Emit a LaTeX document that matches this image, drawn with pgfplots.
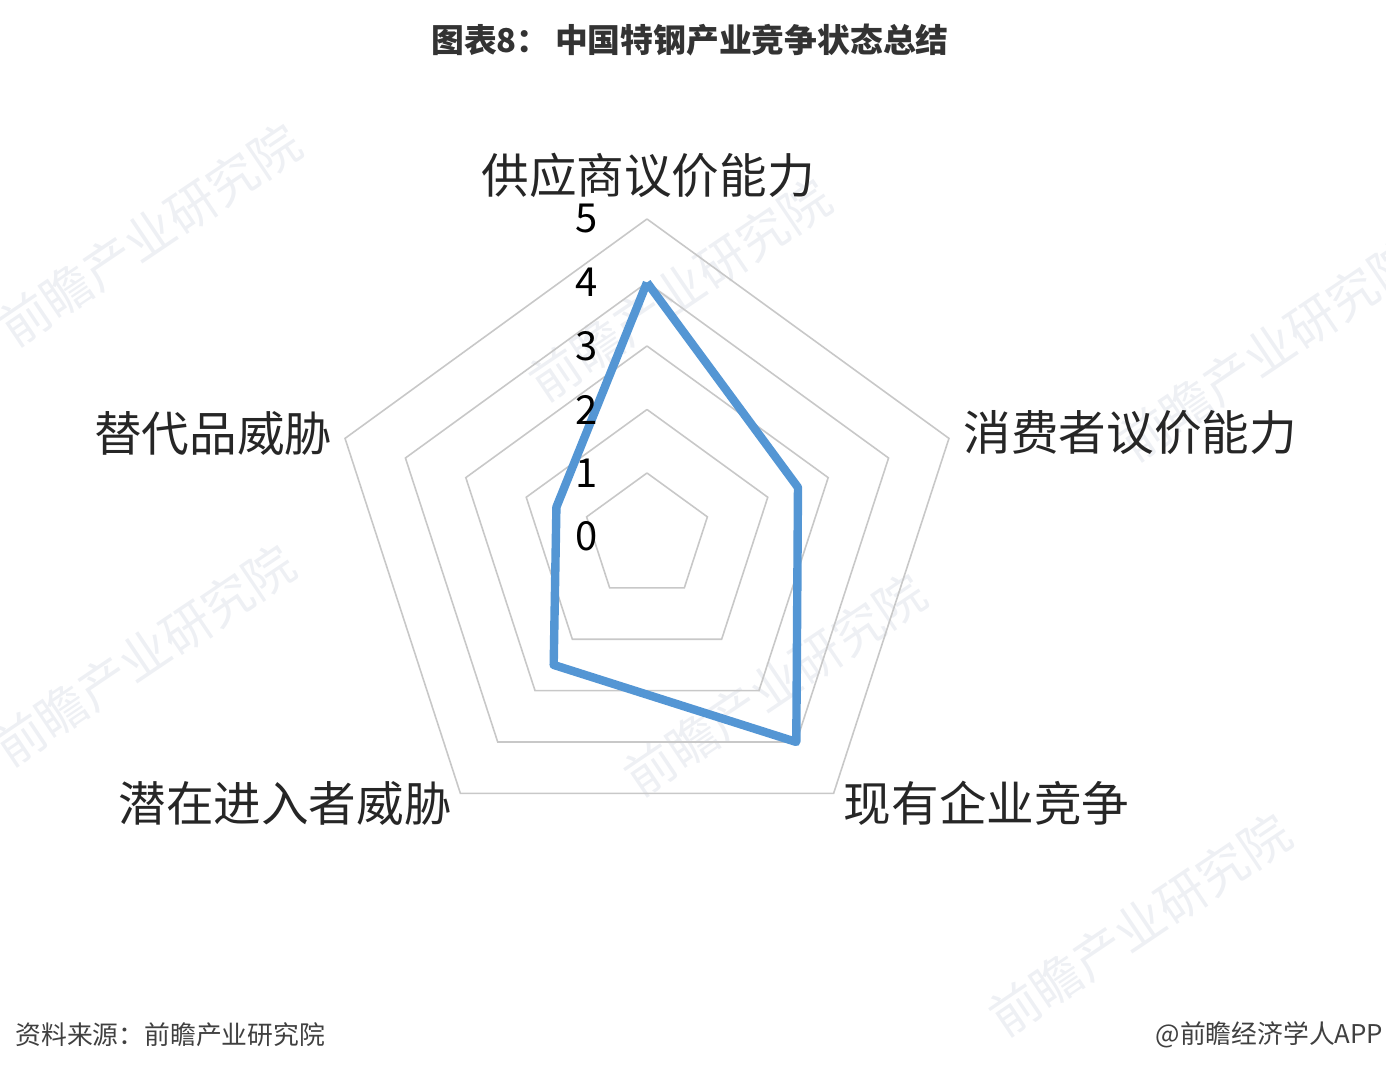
\documentclass[border=0pt]{standalone}
\usepackage{pgfplots}
\pgfplotsset{compat=1.18}
\usepackage{fontspec}
\setmainfont{Noto Sans CJK SC}
\definecolor{radarblue}{RGB}{84,150,212}
\definecolor{gridgray}{RGB}{200,200,200}
\definecolor{labtxt}{RGB}{38,38,38}
\definecolor{titletxt}{RGB}{51,51,51}
\definecolor{srctxt}{RGB}{64,64,64}
\definecolor{wm}{RGB}{238,240,244}
\tikzset{wmark/.style={overlay, rotate=34, text=wm, font=\fontsize{25}{30}\selectfont}}
\begin{document}
\begin{tikzpicture}
\begin{axis}[
  x=31.75pt, y=31.75pt,
  xmin=-10.189, xmax=11.638, ymin=-8.528, ymax=8.449,
  hide axis, clip=false,
]
\path (rel axis cs:0,0) rectangle (rel axis cs:1,1);
% watermarks
\node[wmark] at (axis cs:-7.83,4.75) {前瞻产业研究院};
\node[wmark] at (axis cs:0.52,3.88) {前瞻产业研究院};
\node[wmark] at (axis cs:9.81,2.94) {前瞻产业研究院};
\node[wmark] at (axis cs:-7.91,-1.87) {前瞻产业研究院};
\node[wmark] at (axis cs:2.02,-2.34) {前瞻产业研究院};
\node[wmark] at (axis cs:7.76,-6.12) {前瞻产业研究院};
% grid pentagons
\addplot[gridgray, line width=0.8pt, data cs=polar] coordinates {(90,1) (18,1) (-54,1) (-126,1) (162,1) (90,1)};
\addplot[gridgray, line width=0.8pt, data cs=polar] coordinates {(90,2) (18,2) (-54,2) (-126,2) (162,2) (90,2)};
\addplot[gridgray, line width=0.8pt, data cs=polar] coordinates {(90,3) (18,3) (-54,3) (-126,3) (162,3) (90,3)};
\addplot[gridgray, line width=0.8pt, data cs=polar] coordinates {(90,4) (18,4) (-54,4) (-126,4) (162,4) (90,4)};
\addplot[gridgray, line width=0.8pt, data cs=polar] coordinates {(90,5) (18,5) (-54,5) (-126,5) (162,5) (90,5)};
% data
\addplot[radarblue, line width=4.2pt, line join=round, data cs=polar] coordinates {
  (90,4) (18,2.5) (-54,4) (-126,2.5) (162,1.5) (90,4)};
% radial tick labels
\node[font=\fontsize{20}{22}\selectfont] at (axis cs:-0.945,0) {0};
\node[font=\fontsize{20}{22}\selectfont] at (axis cs:-0.945,1) {1};
\node[font=\fontsize{20}{22}\selectfont] at (axis cs:-0.945,2) {2};
\node[font=\fontsize{20}{22}\selectfont] at (axis cs:-0.945,3) {3};
\node[font=\fontsize{20}{22}\selectfont] at (axis cs:-0.945,4) {4};
\node[font=\fontsize{20}{22}\selectfont] at (axis cs:-0.945,5) {5};
% category labels
\node[text=labtxt, font=\fontsize{23.8}{26}\selectfont] at (axis cs:0.016,5.69) {供应商议价能力};
\node[text=labtxt, font=\fontsize{23.8}{26}\selectfont] at (axis cs:7.61,1.63) {消费者议价能力};
\node[text=labtxt, font=\fontsize{23.8}{26}\selectfont] at (axis cs:5.35,-4.20) {现有企业竞争};
\node[text=labtxt, font=\fontsize{23.8}{26}\selectfont] at (axis cs:-5.70,-4.20) {潜在进入者威胁};
\node[text=labtxt, font=\fontsize{23.8}{26}\selectfont] at (axis cs:-6.83,1.63) {替代品威胁};
% title
\node[text=titletxt, font=\fontsize{16.4}{18}\selectfont\bfseries] at (axis cs:0.677,7.82) {图表8：\,中国特钢产业竞争状态总结};
% source
\node[anchor=west, text=srctxt, font=\fontsize{12.9}{15}\selectfont, inner sep=0pt] at (axis cs:-9.95,-7.85) {资料来源：前瞻产业研究院};
\node[anchor=east, text=srctxt, font=\fontsize{12.9}{15}\selectfont, inner sep=0pt] at (axis cs:11.60,-7.85) {@前瞻经济学人APP};
\end{axis}
\end{tikzpicture}
\end{document}
